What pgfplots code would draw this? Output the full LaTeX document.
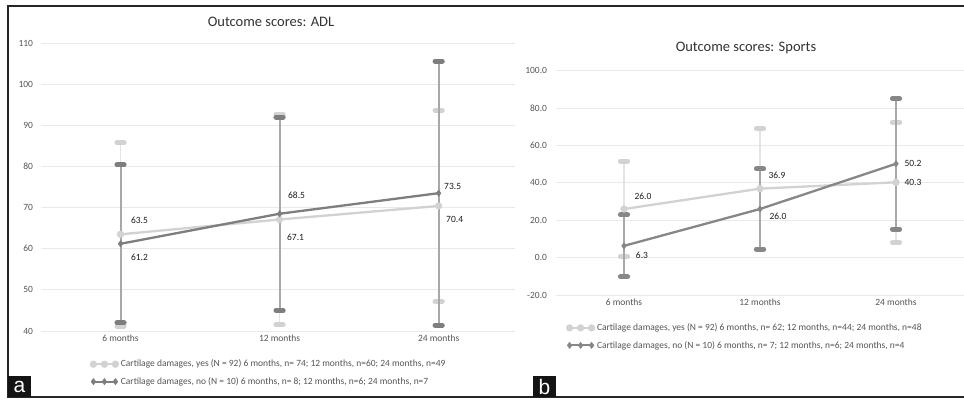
\documentclass[border=0pt]{standalone}
\usepackage{pgfplots}
\pgfplotsset{compat=1.18}
\usepackage{pgfplotstable}
\usepackage{fontspec}
\setmainfont{Carlito}
\newfontfamily\arialfont{Liberation Sans}
\definecolor{lightser}{HTML}{D2D2D2}
\definecolor{darkser}{HTML}{878787}
\definecolor{darkserA}{HTML}{7E7E7E}
\definecolor{lightbar}{HTML}{E4E4E4}
\definecolor{darkbar}{HTML}{A8A8A8}
\definecolor{gridc}{HTML}{E9E9E9}
\definecolor{tickc}{HTML}{555555}
\definecolor{labc}{HTML}{1E1E1E}

\pgfplotstableread{
x y e
1 63.5 22.3
2 67.1 25.6
3 70.4 23.2
}\adlyes
\pgfplotstableread{
x y e
1 61.2 19.2
2 68.5 23.5
3 73.5 32.1
}\adlno
\pgfplotstableread{
x y e
1 26.0 25.6
2 36.9 32.3
3 40.3 32.2
}\spyes
\pgfplotstableread{
x y e
1 6.3 16.5
2 26.0 21.5
3 50.2 34.9
}\spno
\pgfplotstableread{
x y dx dy lab
1 63.5 19 14 63.5
1 61.2 19 -14 61.2
2 68.5 17 18 68.5
2 67.1 16 -18 67.1
3 73.5 14 7 73.5
3 70.4 16 -14 70.4
}\adllab
\pgfplotstableread{
x y dx dy lab
1 26.0 19 13 26.0
1 6.3 18 -9 6.3
2 36.9 17 13 36.9
2 26.0 18 -7 26.0
3 50.2 17 0 50.2
3 40.3 17 0 40.3
}\splab

\pgfplotsset{
  myaxis/.style={
    scale only axis, xmin=0.5, xmax=3.5,
    xtick={1,2,3}, xticklabels={6 months,12 months,24 months},
    axis line style={draw=none}, major tick length=0pt,
    ymajorgrids, grid style={gridc, line width=0.9pt},
    tick label style={font=\fontsize{9.5}{11}\selectfont, text=tickc},
    /pgf/number format/assume math mode=true,
    clip=false,
    legend cell align=left,
    legend style={draw=none, fill=none, font=\fontsize{9.5}{11}\selectfont, text=tickc,
      anchor=north west, row sep=5pt, inner sep=0pt},
    legend image code/.code={\draw[mark repeat=1,mark phase=1,#1] plot coordinates {(0pt,0pt) (11pt,0pt) (22pt,0pt)};},
  },
  yesser/.style={lightser, line width=2.3pt, mark=*, mark size=3.4pt,
    mark options={solid, fill=lightser, draw=lightser, line width=0.4pt},
    error bars/y dir=both, error bars/y explicit, error bars/error mark=|,
    error bars/error bar style={draw=lightbar, line width=1.6pt},
    error bars/error mark options={draw=lightser, line width=5pt, mark size=3.6pt, line cap=round}},
  noser/.style={#1, line width=2.3pt, mark=diamond*, mark size=3.2pt,
    mark options={solid, fill=#1, draw=#1, line width=0.4pt},
    error bars/y dir=both, error bars/y explicit, error bars/error mark=|,
    error bars/error bar style={draw=darkbar, line width=2pt},
    error bars/error mark options={draw=#1, line width=5pt, mark size=3.6pt, line cap=round}},
  labplot/.style={draw=none, mark=none, forget plot,
    nodes near coords, point meta=explicit symbolic,
    visualization depends on={\thisrow{dx}\as\dx},
    visualization depends on={\thisrow{dy}\as\dy},
    nodes near coords style={anchor=center, xshift=\dx pt, yshift=\dy pt,
      font=\fontsize{9.5}{11}\selectfont, text=labc, inner sep=0pt}},
}

\begin{document}
\begin{tikzpicture}[x=1pt,y=1pt]
\useasboundingbox (0,0) rectangle (964,399);
\fill[white] (0,0) rectangle (964,399);

% ---------- panel a ----------
\begin{axis}[myaxis, at={(41pt,68pt)}, anchor=south west,
  width=474pt, height=288pt, xmax=3.48,
  ymin=40, ymax=110, ytick={40,50,...,110},
  yticklabel style={xshift=-4.5pt},
  legend style={at={(0.103,-0.093)}}]
\addplot[yesser] table[x=x,y=y,y error=e]{\adlyes};
\addlegendentry{Cartilage damages, yes (N = 92) 6 months, n= 74; 12 months, n=60; 24 months, n=49}
\addplot[noser=darkserA] table[x=x,y=y,y error=e]{\adlno};
\addlegendentry{Cartilage damages, no (N = 10) 6 months, n= 8; 12 months, n=6; 24 months, n=7}
\addplot[labplot] table[x=x,y=y,meta=lab]{\adllab};
\end{axis}

% ---------- panel b ----------
\begin{axis}[myaxis, at={(556pt,104pt)}, anchor=south west,
  width=408pt, height=224.3pt,
  ymin=-20, ymax=100, ytick={-20,0,...,100},
  yticklabels={-20.0,0.0,20.0,40.0,60.0,80.0,100.0},
  yticklabel style={xshift=-5.5pt},
  legend style={at={(0.0245,-0.118)}}]
\addplot[yesser] table[x=x,y=y,y error=e]{\spyes};
\addlegendentry{Cartilage damages, yes (N = 92) 6 months, n= 62; 12 months, n=44; 24 months, n=48}
\addplot[noser=darkser] table[x=x,y=y,y error=e]{\spno};
\addlegendentry{Cartilage damages, no (N = 10) 6 months, n= 7; 12 months, n=6; 24 months, n=4}
\addplot[labplot] table[x=x,y=y,meta=lab]{\splab};
\end{axis}

% titles
\node[font=\fontsize{14.5}{16}\selectfont, text=black!80] at (271,377) {Outcome scores: ADL};
\node[font=\fontsize{14.5}{16}\selectfont, text=black!80] at (746,351) {Outcome scores: Sports};

% frame
\draw[line width=1.4pt, black!85] (964,393) -- (8,393) -- (8,2) -- (964,2);

% panel letters
\fill[black!92] (8,2) rectangle (31,23);
\node[text=white, font=\arialfont\fontsize{21}{21}\selectfont, inner sep=0pt] at (19.5,12.5) {a};
\fill[black!92] (533,2) rectangle (556,23);
\node[text=white, font=\arialfont\fontsize{21}{21}\selectfont, inner sep=0pt] at (544.5,12.5) {b};
\end{tikzpicture}
\end{document}
